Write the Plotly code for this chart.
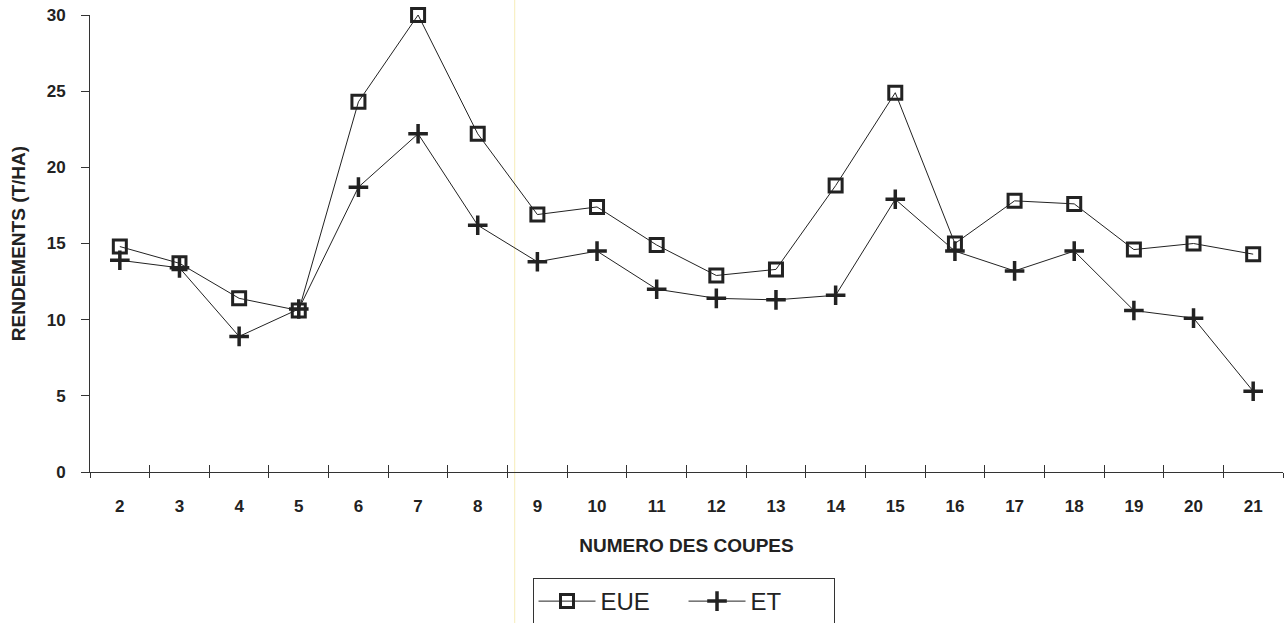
import plotly.graph_objects as go

coupes = ["2", "3", "4", "5", "6", "7", "8", "9", "10", "11",
          "12", "13", "14", "15", "16", "17", "18", "19", "20", "21"]
eue = [14.8, 13.7, 11.4, 10.6, 24.3, 30.0, 22.2, 16.9, 17.4, 14.9,
       12.9, 13.3, 18.8, 24.9, 15.0, 17.8, 17.6, 14.6, 15.0, 14.3]
et = [13.9, 13.4, 8.9, 10.7, 18.7, 22.2, 16.2, 13.8, 14.5, 12.0,
      11.4, 11.3, 11.6, 17.9, 14.5, 13.2, 14.5, 10.6, 10.1, 5.3]

FONT = "Liberation Sans, Arial, sans-serif"
INK = "#222222"

fig = go.Figure()
fig.add_trace(go.Scatter(
    x=coupes, y=eue, name="EUE", mode="lines+markers",
    line=dict(color=INK, width=1),
    marker=dict(symbol="square-open", size=13, color=INK, line=dict(width=3, color=INK)),
    cliponaxis=False,
))
fig.add_trace(go.Scatter(
    x=coupes, y=et, name="ET", mode="lines+markers",
    line=dict(color=INK, width=1),
    marker=dict(symbol="cross-thin", size=14, color=INK, line=dict(width=3.5, color=INK)),
    cliponaxis=False,
))

# second x axis for the upper part of the crossing ticks
fig.add_trace(go.Scatter(x=coupes, y=[None] * len(coupes), xaxis="x2", showlegend=False,
                         hoverinfo="skip"))

fig.update_layout(
    width=1286, height=623,
    margin=dict(l=90, r=3, t=15, b=151, autoexpand=False),
    paper_bgcolor="white", plot_bgcolor="white",
    font=dict(family=FONT, color=INK),
    showlegend=True,
    legend=dict(
        orientation="h", x=0.4975, xanchor="center", y=-0.232, yanchor="top",
        bordercolor="#333333", borderwidth=1, bgcolor="white",
        font=dict(size=24, family=FONT, color=INK),
        itemwidth=57, entrywidth=78, entrywidthmode="pixels",
    ),
    xaxis=dict(
        type="category", range=[-0.5, 19.5],
        showline=True, linecolor="#333333", linewidth=1,
        showgrid=False, zeroline=False,
        ticks="outside", ticklen=5, tickcolor="#333333", tickson="boundaries",
        tickfont=dict(size=17, family=FONT, color=INK, weight="bold"),
        ticklabelstandoff=19,
        title=dict(text="<b>NUMERO DES COUPES</b>", font=dict(size=19, family=FONT, color=INK),
                   standoff=23),
    ),
    xaxis2=dict(
        type="category", range=[-0.5, 19.5], overlaying="x", anchor="y",
        showline=False, showgrid=False, zeroline=False,
        ticks="inside", ticklen=7, tickcolor="#333333", tickson="boundaries",
        showticklabels=False, matches="x",
    ),
    yaxis=dict(
        range=[0, 30], tickvals=[0, 5, 10, 15, 20, 25, 30],
        showline=True, linecolor="#333333", linewidth=1,
        showgrid=False, zeroline=False,
        ticks="outside", ticklen=8, tickcolor="#333333",
        tickfont=dict(size=17, family=FONT, color=INK, weight="bold"),
        ticklabelstandoff=12,
        title=dict(text="<b>RENDEMENTS (T/HA)</b>", font=dict(size=19, family=FONT, color=INK),
                   standoff=16),
    ),
    shapes=[dict(type="line", xref="paper", yref="paper", x0=0.356, x1=0.356,
                 y0=-0.34, y1=1.04, line=dict(color="#f6ecb8", width=1), layer="below")],
)

fig.write_html("out.html")
